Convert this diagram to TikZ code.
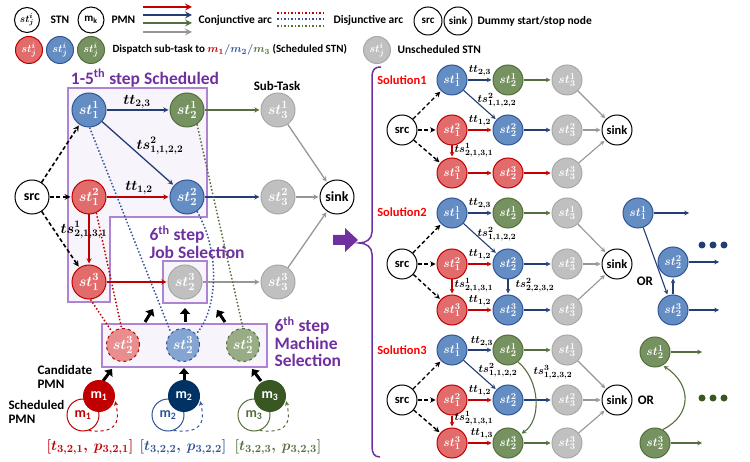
\documentclass[tikz,border=0pt]{standalone}
\usepackage[no-math]{fontspec}
\setmainfont{Carlito}
\usepackage{amsmath}
\usepackage{bm}
\usetikzlibrary{arrows.meta}

\definecolor{rfill}{RGB}{226,108,108}
\definecolor{rline}{RGB}{192,0,0}
\definecolor{rcand}{RGB}{232,142,142}
\definecolor{bfill}{RGB}{100,141,196}
\definecolor{bline}{RGB}{47,85,151}
\definecolor{barr}{RGB}{36,62,116}
\definecolor{bcand}{RGB}{132,165,210}
\definecolor{gfill}{RGB}{118,146,96}
\definecolor{gline}{RGB}{84,110,60}
\definecolor{gcand}{RGB}{152,172,134}
\definecolor{kfill}{RGB}{192,192,192}
\definecolor{kline}{RGB}{168,168,168}
\definecolor{karr}{RGB}{150,150,150}
\definecolor{pline}{RGB}{112,48,160}
\definecolor{pbox}{RGB}{172,132,210}
\definecolor{pfill}{RGB}{248,244,251}
\definecolor{mred}{RGB}{192,0,0}
\definecolor{mblue}{RGB}{0,50,100}
\definecolor{mgreen}{RGB}{56,87,35}
\definecolor{solred}{RGB}{255,0,0}

\newcommand{\stj}[2]{$\bm{st^{#1}_{#2}}$}
\newcommand{\fsz}[1]{\fontsize{#1}{#1}\selectfont\bfseries}

\begin{document}
\begin{tikzpicture}[x=1pt, y=-1pt, > = stealth, shorten > = 1pt]
            \tikzstyle{vertex}=[circle, draw, line width=1pt, inner sep=0pt, minimum size=34pt, text=white, font=\fsz{15}]
            \tikzstyle{svertex}=[vertex, minimum size=30pt, font=\fsz{13}]
            \tikzstyle{redv}=[fill=rfill, draw=rline]
            \tikzstyle{bluev}=[fill=bfill, draw=bline]
            \tikzstyle{greenv}=[fill=gfill, draw=gline]
            \tikzstyle{grayv}=[fill=kfill, draw=kline]
            \tikzstyle{cand}=[vertex, dashed, minimum size=33pt]
            \tikzstyle{dummy}=[circle, draw, line width=1pt, inner sep=0pt, minimum size=34pt, fill=white, font=\fsz{14}]
            \tikzstyle{sdummy}=[dummy, minimum size=30pt, font=\fsz{12.5}]
            \tikzstyle{mach}=[circle, line width=1pt, inner sep=0pt, minimum size=32pt, font=\fsz{14}]
            \tikzstyle{conj}=[->, line width=1.3pt]
            \tikzstyle{sconj}=[->, line width=1.1pt]
            \tikzstyle{srcarc}=[->, line width=1.6pt, dash pattern=on 4pt off 2.5pt]
            \tikzstyle{disj}=[line width=1.5pt, dotted]
            \tikzstyle{bigarr}=[-{Triangle[length=6pt, width=10pt]}, line width=3pt, shorten >=0pt]
            \tikzstyle{lbl}=[font=\fsz{14}]
            \tikzstyle{slbl}=[font=\fsz{11}]
            \tikzstyle{ptext}=[text=pline, font=\fsz{17.5}]
            \tikzstyle{legtext}=[anchor=west, font=\fsz{11.5}]
            \tikzstyle{soltext}=[text=solred, font=\fsz{12.5}]

                \useasboundingbox (0,0) rectangle (750,462);

                % Legenda
                \node[circle, draw, line width=1pt, inner sep=0pt, minimum size=25pt, font=\fsz{10}] (lgst) at (27,20) {\stj{i}{j}};
                \node[legtext] (lgstn) at (47,20) {STN};
                \node[circle, draw, line width=1pt, inner sep=0pt, minimum size=26pt, font=\fsz{11}] (lgm) at (91,20) {m\textsubscript{k}};
                \node[legtext] (lgpmn) at (108,20) {PMN};
                \coordinate (ca1) at (143,7);  \coordinate (cb1) at (193,7);
                \coordinate (ca2) at (143,15); \coordinate (cb2) at (193,15);
                \coordinate (ca3) at (143,23); \coordinate (cb3) at (193,23);
                \coordinate (ca4) at (143,32); \coordinate (cb4) at (193,32);
                \draw[conj, line width=2pt, rline] (ca1) -- (cb1);
                \draw[conj, line width=2pt, barr] (ca2) -- (cb2);
                \draw[conj, line width=2pt, gline] (ca3) -- (cb3);
                \draw[conj, line width=2pt, karr] (ca4) -- (cb4);
                \node[legtext] (lgconj) at (195,20) {Conjunctive arc};
                \coordinate (da1) at (277,13); \coordinate (db1) at (325,13);
                \coordinate (da2) at (277,19); \coordinate (db2) at (325,19);
                \coordinate (da3) at (277,26); \coordinate (db3) at (325,26);
                \draw[disj, rline] (da1) -- (db1);
                \draw[disj, bline] (da2) -- (db2);
                \draw[disj, gline] (da3) -- (db3);
                \node[legtext] (lgdisj) at (330,20) {Disjunctive arc};
                \node[dummy, minimum size=28pt, font=\fsz{11}] (lgsrc) at (428,21) {src};
                \node[dummy, minimum size=28pt, font=\fsz{11}] (lgsink) at (458,21) {sink};
                \node[legtext] (lgdummy) at (474,21) {Dummy start/stop node};
                \node[vertex, redv, minimum size=27pt, font=\fsz{11}] (lgr) at (29,50) {\stj{i}{j}};
                \node[vertex, bluev, minimum size=27pt, font=\fsz{11}] (lgb) at (60,50) {\stj{i}{j}};
                \node[vertex, greenv, minimum size=27pt, font=\fsz{11}] (lgg) at (91,50) {\stj{i}{j}};
                \node[legtext, font=\fsz{11}] (lgdisp) at (109,50) {Dispatch sub-task to {\color{rline}$\bm{m_1}$}{\color{bline}$\bm{/}$}{\color{bline}$\bm{m_2}$}{\color{bline}$\bm{/}$}{\color{gline}$\bm{m_3}$} (Scheduled STN)};
                \node[vertex, grayv, minimum size=27pt, font=\fsz{11}] (lgk) at (377,50) {\stj{i}{j}};
                \node[legtext] (lgunsch) at (394,50) {Unscheduled STN};

                % Caixas
                \filldraw[fill=pfill, draw=pbox, line width=1.2pt] (68,88) -- (207,88) -- (207,217) -- (110,217) -- (110,302) -- (68,302) -- cycle;
                \filldraw[fill=pfill, draw=pbox, line width=1.2pt] (163,261) rectangle (207,303);
                \filldraw[fill=pfill, draw=pbox, line width=1.2pt] (102,324) rectangle (267,367);
                \node[ptext] (t15) at (145,78) {1-5\textsuperscript{th} step Scheduled};
                \node[font=\fsz{13}] (tsub) at (277,86) {Sub-Task};
                \node[ptext, anchor=west, align=left, font=\fontsize{17.5}{17.5}\selectfont\bfseries] (tjob) at (146,242) {6\textsuperscript{th} step\\Job Selection};
                \node[ptext, anchor=west, align=left, font=\fontsize{17.5}{17.5}\selectfont\bfseries] (tmach) at (271,342) {6\textsuperscript{th} step\\Machine\\Selection};

                % Nós
                \node[dummy] (src) at (32,197) {src};
                \node[vertex, bluev] (st11) at (89,110) {\stj{1}{1}};
                \node[vertex, greenv] (st12) at (187,110) {\stj{1}{2}};
                \node[vertex, grayv] (st13) at (278,110) {\stj{1}{3}};
                \node[vertex, redv] (st21) at (89,197) {\stj{2}{1}};
                \node[vertex, bluev] (st22) at (187,197) {\stj{2}{2}};
                \node[vertex, grayv] (st23) at (278,197) {\stj{2}{3}};
                \node[vertex, redv] (st31) at (89,282) {\stj{3}{1}};
                \node[vertex, grayv] (st32) at (185,282) {\stj{3}{2}};
                \node[vertex, grayv] (st33) at (278,282) {\stj{3}{3}};
                \node[dummy] (sink) at (337,197) {sink};
                \node[cand, fill=rcand, draw=rline] (c1) at (123,345) {\stj{3}{2}};
                \node[cand, fill=bcand, draw=bline] (c2) at (183,345) {\stj{3}{2}};
                \node[cand, fill=gcand, draw=gline] (c3) at (243,345) {\stj{3}{2}};

                % Arestas
                \draw[srcarc] (src) -- (st11);
                \draw[srcarc] (src) -- (st21);
                \draw[srcarc] (src) -- (st31);
                \draw[conj, barr] (st11) -- (st12);
                \draw[conj, barr] (st11) -- (st22);
                \draw[conj, gline] (st12) -- (st13);
                \draw[conj, rline] (st21) -- (st22);
                \draw[conj, barr] (st22) -- (st23);
                \draw[conj, rline] (st21) -- (st31);
                \draw[conj, rline] (st31) -- (st32);
                \draw[conj, karr] (st32) -- (st33);
                \draw[conj, karr] (st13) -- (sink);
                \draw[conj, karr] (st23) -- (sink);
                \draw[conj, karr] (st33) -- (sink);
                \draw[disj, rline] (st21.-65) -- (c1.95);
                \draw[disj, rline] (st31.-85) -- (c1.130);
                \draw[disj, bline] (st11.-88) -- (c2.135);
                \draw[disj, bline] (st22.-55) .. controls (222,255) and (216,312) .. (c2.40);
                \draw[disj, gline] (st12.-55) -- (c3.90);

                \node[lbl] (l23) at (137,102) {$\bm{tt_{2,3}}$};
                \node[lbl] (l1122) at (160,146) {$\bm{ts^2_{1,1,2,2}}$};
                \node[lbl] (l12) at (139,188) {$\bm{tt_{1,2}}$};
                \node[lbl] (l2131) at (84,230) {$\bm{ts^1_{2,1,3,1}}$};

                % Seleção
                \coordinate (ua1) at (145,322); \coordinate (ub1) at (153,309);
                \coordinate (ua2) at (185,322); \coordinate (ub2) at (185,308);
                \coordinate (ua3) at (225,322); \coordinate (ub3) at (217,310);
                \coordinate (la1) at (103,381); \coordinate (lb1) at (112,369);
                \coordinate (la2) at (184,381); \coordinate (lb2) at (184,368);
                \coordinate (la3) at (261,381); \coordinate (lb3) at (252,369);
                \draw[bigarr] (ua1) -- (ub1);
                \draw[bigarr] (ua2) -- (ub2);
                \draw[bigarr] (ua3) -- (ub3);
                \draw[bigarr] (la1) -- (lb1);
                \draw[bigarr] (la2) -- (lb2);
                \draw[bigarr] (la3) -- (lb3);

                % Máquinas
                \node[mach, draw=rline, fill=white, text=rline] (ps1) at (83,415) {m\textsubscript{1}};
                \node[mach, fill=mred, text=white] (pm1) at (99,396) {m\textsubscript{1}};
                \node[mach, draw=bline, fill=white, text=bline] (ps2) at (168,415) {m\textsubscript{2}};
                \node[mach, fill=mblue, text=white] (pm2) at (184,396) {m\textsubscript{2}};
                \node[mach, draw=gline, fill=white, text=gline] (ps3) at (254,415) {m\textsubscript{3}};
                \node[mach, fill=mgreen, text=white] (pm3) at (270,396) {m\textsubscript{3}};
                \draw[->, dashed, line width=1pt, rline] (ps1.-70) .. controls +(25,3) and +(6,25) .. (pm1.-15);
                \draw[->, dashed, line width=1pt, bline] (ps2.-70) .. controls +(25,3) and +(6,25) .. (pm2.-15);
                \draw[->, dashed, line width=1pt, gline] (ps3.-70) .. controls +(25,3) and +(6,25) .. (pm3.-15);
                \node[font=\fontsize{13}{14}\selectfont\bfseries, anchor=west, align=left] (tcand) at (34,377) {Candidate\\PMN};
                \node[font=\fontsize{13}{14}\selectfont\bfseries, anchor=west, align=left] (tsch) at (5,412) {Scheduled\\PMN};
                \node[font=\fsz{15}, text=rline] (q1) at (90,447) {$\bm{[t_{3,2,1},\ p_{3,2,1}]}$};
                \node[font=\fsz{15}, text=bline] (q2) at (183,447) {$\bm{[t_{3,2,2},\ p_{3,2,2}]}$};
                \node[font=\fsz{15}, text=gline] (q3) at (278,447) {$\bm{[t_{3,2,3},\ p_{3,2,3}]}$};

                % Chave
                \fill[pline] (333,235) -- (345,235) -- (345,228) -- (358,240) -- (345,252) -- (345,245) -- (333,245) -- cycle;
                \draw[pline, line width=1.5pt] (381,67) .. controls (374,67) and (372,70) .. (372,78) -- (372,232) .. controls (372,239) and (366,243) .. (359,243) .. controls (366,243) and (372,247) .. (372,254) -- (372,446) .. controls (372,453) and (374,457) .. (381,457);

                % Solução 1
                \node[soltext] (usol) at (402,80) {Solution1};
                \node[sdummy] (usrc) at (402,130) {src};
                \node[svertex, bluev] (u11) at (452,80) {\stj{1}{1}};
                \node[svertex, greenv] (u12) at (508,80) {\stj{1}{2}};
                \node[svertex, grayv] (u13) at (567,80) {\stj{1}{3}};
                \node[svertex, redv] (u21) at (452,130) {\stj{2}{1}};
                \node[svertex, bluev] (u22) at (508,130) {\stj{2}{2}};
                \node[svertex, grayv] (u23) at (567,130) {\stj{2}{3}};
                \node[svertex, redv] (u31) at (452,173) {\stj{3}{1}};
                \node[svertex, redv] (u32) at (508,173) {\stj{3}{2}};
                \node[svertex, grayv] (u33) at (567,173) {\stj{3}{3}};
                \node[sdummy] (usink) at (617,130) {sink};
                \draw[srcarc, line width=1.4pt] (usrc) -- (u11);
                \draw[srcarc, line width=1.4pt] (usrc) -- (u21);
                \draw[srcarc, line width=1.4pt] (usrc) -- (u31);
                \draw[sconj, barr] (u11) -- (u12);
                \draw[sconj, barr] (u11) -- (u22);
                \draw[sconj, gline] (u12) -- (u13);
                \draw[sconj, rline] (u21) -- (u22);
                \draw[sconj, barr] (u22) -- (u23);
                \draw[sconj, rline] (u21) -- (u31);
                \draw[sconj, rline] (u31) -- (u32);
                \draw[sconj, rline] (u32) -- (u33);
                \draw[sconj, karr] (u13) -- (usink);
                \draw[sconj, karr] (u23) -- (usink);
                \draw[sconj, karr] (u33) -- (usink);
                \node[slbl] (ul23) at (480,71) {$\bm{tt_{2,3}}$};
                \node[slbl] (ul1122) at (497,100) {$\bm{ts^2_{1,1,2,2}}$};
                \node[slbl] (ul12) at (480,121) {$\bm{tt_{1,2}}$};
                \node[slbl] (ul2131) at (474,150) {$\bm{ts^1_{2,1,3,1}}$};

                % Solução 2
                \node[soltext] (vsol) at (402,212) {Solution2};
                \node[sdummy] (vsrc) at (402,264) {src};
                \node[svertex, bluev] (v11) at (452,213) {\stj{1}{1}};
                \node[svertex, greenv] (v12) at (508,213) {\stj{1}{2}};
                \node[svertex, grayv] (v13) at (567,213) {\stj{1}{3}};
                \node[svertex, redv] (v21) at (452,264) {\stj{2}{1}};
                \node[svertex, bluev] (v22) at (508,264) {\stj{2}{2}};
                \node[svertex, grayv] (v23) at (567,264) {\stj{2}{3}};
                \node[svertex, redv] (v31) at (452,310) {\stj{3}{1}};
                \node[svertex, bluev] (v32) at (508,310) {\stj{3}{2}};
                \node[svertex, grayv] (v33) at (567,310) {\stj{3}{3}};
                \node[sdummy] (vsink) at (617,264) {sink};
                \draw[srcarc, line width=1.4pt] (vsrc) -- (v11);
                \draw[srcarc, line width=1.4pt] (vsrc) -- (v21);
                \draw[srcarc, line width=1.4pt] (vsrc) -- (v31);
                \draw[sconj, barr] (v11) -- (v12);
                \draw[sconj, barr] (v11) -- (v22);
                \draw[sconj, gline] (v12) -- (v13);
                \draw[sconj, rline] (v21) -- (v22);
                \draw[sconj, barr] (v22) -- (v23);
                \draw[sconj, rline] (v21) -- (v31);
                \draw[sconj, barr] (v22) -- (v32);
                \draw[sconj, rline] (v31) -- (v32);
                \draw[sconj, barr] (v32) -- (v33);
                \draw[sconj, karr] (v13) -- (vsink);
                \draw[sconj, karr] (v23) -- (vsink);
                \draw[sconj, karr] (v33) -- (vsink);
                \node[slbl] (vl23) at (480,204) {$\bm{tt_{2,3}}$};
                \node[slbl] (vl1122) at (497,234) {$\bm{ts^2_{1,1,2,2}}$};
                \node[slbl] (vl12) at (480,255) {$\bm{tt_{1,2}}$};
                \node[slbl] (vl2131) at (474,285) {$\bm{ts^1_{2,1,3,1}}$};
                \node[slbl] (vl2232) at (535,285) {$\bm{ts^2_{2,2,3,2}}$};
                \node[slbl] (vl12b) at (480,301) {$\bm{tt_{1,2}}$};
                \node[font=\fsz{13}] (vor) at (645,281) {OR};
                \node[svertex, bluev] (x11) at (638,213) {\stj{1}{1}};
                \node[svertex, bluev] (x22) at (673,262) {\stj{2}{2}};
                \node[svertex, bluev] (x32) at (673,310) {\stj{3}{2}};
                \coordinate (x11e) at (690,213);
                \coordinate (x22e) at (720,262);
                \coordinate (x32e) at (720,310);
                \draw[sconj, barr] (x11) -- (x11e);
                \draw[sconj, barr] (x22) -- (x22e);
                \draw[sconj, barr] (x32) -- (x32e);
                \draw[sconj, barr] (x11) -- (x32);
                \draw[sconj, barr] (x32) -- (x22);
                \node[circle, fill=barr, inner sep=0pt, minimum size=7pt] (xd1) at (702,245) {};
                \node[circle, fill=barr, inner sep=0pt, minimum size=7pt] (xd2) at (713,245) {};
                \node[circle, fill=barr, inner sep=0pt, minimum size=7pt] (xd3) at (724,245) {};

                % Solução 3
                \node[soltext] (wsol) at (402,350) {Solution3};
                \node[sdummy] (wsrc) at (402,400) {src};
                \node[svertex, bluev] (w11) at (452,350) {\stj{1}{1}};
                \node[svertex, greenv] (w12) at (508,350) {\stj{1}{2}};
                \node[svertex, grayv] (w13) at (567,350) {\stj{1}{3}};
                \node[svertex, redv] (w21) at (452,400) {\stj{2}{1}};
                \node[svertex, bluev] (w22) at (508,400) {\stj{2}{2}};
                \node[svertex, grayv] (w23) at (567,400) {\stj{2}{3}};
                \node[svertex, redv] (w31) at (452,443) {\stj{3}{1}};
                \node[svertex, greenv] (w32) at (508,443) {\stj{3}{2}};
                \node[svertex, grayv] (w33) at (567,443) {\stj{3}{3}};
                \node[sdummy] (wsink) at (617,400) {sink};
                \draw[srcarc, line width=1.4pt] (wsrc) -- (w11);
                \draw[srcarc, line width=1.4pt] (wsrc) -- (w21);
                \draw[srcarc, line width=1.4pt] (wsrc) -- (w31);
                \draw[sconj, barr] (w11) -- (w12);
                \draw[sconj, barr] (w11) -- (w22);
                \draw[sconj, gline] (w12) -- (w13);
                \draw[sconj, rline] (w21) -- (w22);
                \draw[sconj, barr] (w22) -- (w23);
                \draw[sconj, rline] (w21) -- (w31);
                \draw[sconj, rline] (w31) -- (w32);
                \draw[sconj, gline] (w32) -- (w33);
                \draw[sconj, gline] (w12.-50) .. controls (540,380) and (542,420) .. (w32.35);
                \draw[sconj, karr] (w13) -- (wsink);
                \draw[sconj, karr] (w23) -- (wsink);
                \draw[sconj, karr] (w33) -- (wsink);
                \node[slbl] (wl23) at (482,342) {$\bm{tt_{2,3}}$};
                \node[slbl] (wl1122) at (498,370) {$\bm{ts^2_{1,1,2,2}}$};
                \node[slbl] (wl1232) at (553,372) {$\bm{ts^3_{1,2,3,2}}$};
                \node[slbl] (wl12) at (480,391) {$\bm{tt_{1,2}}$};
                \node[slbl] (wl2131) at (474,418) {$\bm{ts^1_{2,1,3,1}}$};
                \node[slbl] (wl13) at (482,434) {$\bm{tt_{1,3}}$};
                \node[font=\fsz{13}] (wor) at (646,400) {OR};
                \node[svertex, greenv] (y12) at (655,352) {\stj{1}{2}};
                \node[svertex, greenv] (y32) at (655,443) {\stj{3}{2}};
                \coordinate (y12e) at (703,352);
                \coordinate (y32e) at (703,443);
                \draw[sconj, gline] (y12) -- (y12e);
                \draw[sconj, gline] (y32) -- (y32e);
                \draw[sconj, gline] (y32.60) .. controls (692,415) and (692,385) .. (y12.-60);
                \node[circle, fill=mgreen, inner sep=0pt, minimum size=7pt] (yd1) at (702,398) {};
                \node[circle, fill=mgreen, inner sep=0pt, minimum size=7pt] (yd2) at (713,398) {};
                \node[circle, fill=mgreen, inner sep=0pt, minimum size=7pt] (yd3) at (724,398) {};
        \end{tikzpicture}
\end{document}
